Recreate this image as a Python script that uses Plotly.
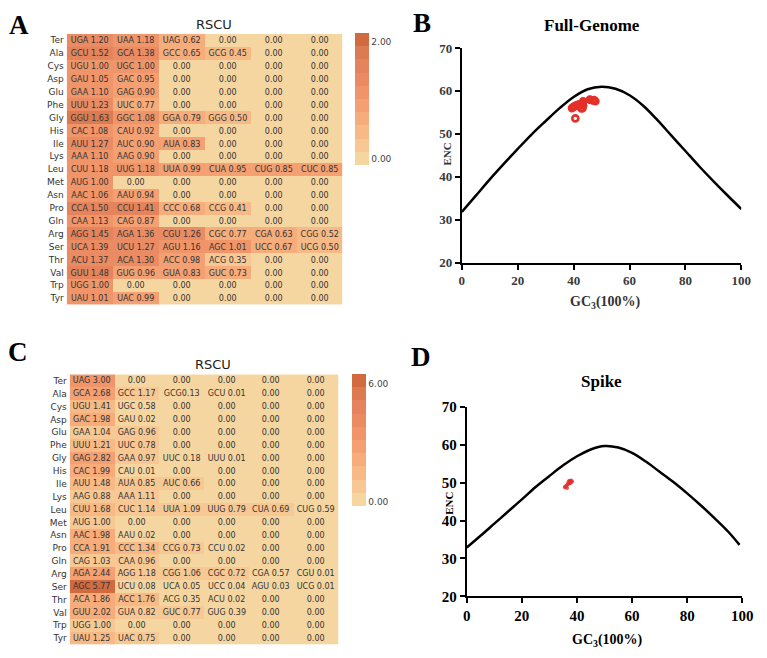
import plotly.graph_objects as go

W, H = 767, 658

amino = ["Ter", "Ala", "Cys", "Asp", "Glu", "Phe", "Gly", "His", "Ile", "Lys", "Leu",
         "Met", "Asn", "Pro", "Gln", "Arg", "Ser", "Thr", "Val", "Trp", "Tyr"]

# Panel A: full genome RSCU (codon, value) per amino acid, columns sorted as in figure
A_codons = [
    ["UGA", "UAA", "UAG"], ["GCU", "GCA", "GCC", "GCG"], ["UGU", "UGC"], ["GAU", "GAC"],
    ["GAA", "GAG"], ["UUU", "UUC"], ["GGU", "GGC", "GGA", "GGG"], ["CAC", "CAU"],
    ["AUU", "AUC", "AUA"], ["AAA", "AAG"], ["CUU", "UUG", "UUA", "CUA", "CUG", "CUC"],
    ["AUG"], ["AAC", "AAU"], ["CCA", "CCU", "CCC", "CCG"], ["CAA", "CAG"],
    ["AGG", "AGA", "CGU", "CGC", "CGA", "CGG"], ["UCA", "UCU", "AGU", "AGC", "UCC", "UCG"],
    ["ACU", "ACA", "ACC", "ACG"], ["GUU", "GUG", "GUA", "GUC"], ["UGG"], ["UAU", "UAC"]]
A_values = [
    [1.20, 1.18, 0.62], [1.52, 1.38, 0.65, 0.45], [1.00, 1.00], [1.05, 0.95],
    [1.10, 0.90], [1.23, 0.77], [1.63, 1.08, 0.79, 0.50], [1.08, 0.92],
    [1.27, 0.90, 0.83], [1.10, 0.90], [1.18, 1.18, 0.99, 0.95, 0.85, 0.85],
    [1.00], [1.06, 0.94], [1.50, 1.41, 0.68, 0.41], [1.13, 0.87],
    [1.45, 1.36, 1.26, 0.77, 0.63, 0.52], [1.39, 1.27, 1.16, 1.01, 0.67, 0.50],
    [1.37, 1.30, 0.98, 0.35], [1.48, 0.96, 0.83, 0.73], [1.00], [1.01, 0.99]]

# Panel C: spike RSCU
C_codons = [
    ["UAG"], ["GCA", "GCC", "GCG", "GCU"], ["UGU", "UGC"], ["GAC", "GAU"],
    ["GAA", "GAG"], ["UUU", "UUC"], ["GAG", "GAA", "UUC", "UUU"], ["CAC", "CAU"],
    ["AUU", "AUA", "AUC"], ["AAG", "AAA"], ["CUU", "CUC", "UUA", "UUG", "CUA", "CUG"],
    ["AUG"], ["AAC", "AAU"], ["CCA", "CCC", "CCG", "CCU"], ["CAG", "CAA"],
    ["AGA", "AGG", "CGG", "CGC", "CGA", "CGU"], ["AGC", "UCU", "UCA", "UCC", "AGU", "UCG"],
    ["ACA", "ACC", "ACG", "ACU"], ["GUU", "GUA", "GUC", "GUG"], ["UGG"], ["UAU", "UAC"]]
C_values = [
    [3.00], [2.68, 1.17, 0.13, 0.01], [1.41, 0.58], [1.98, 0.02],
    [1.04, 0.96], [1.21, 0.78], [2.82, 0.97, 0.18, 0.01], [1.99, 0.01],
    [1.48, 0.85, 0.66], [0.88, 1.11], [1.68, 1.14, 1.09, 0.79, 0.69, 0.59],
    [1.00], [1.98, 0.02], [1.91, 1.34, 0.73, 0.02], [1.03, 0.96],
    [2.44, 1.18, 1.06, 0.72, 0.57, 0.01], [5.77, 0.08, 0.05, 0.04, 0.03, 0.01],
    [1.86, 1.76, 0.35, 0.02], [2.02, 0.82, 0.77, 0.39], [1.00], [1.25, 0.75]]
C_nospace = {(1, 2)}  # "GCG0.13" printed without a space

# Panel B: ENC plot, full genome
B_curve_gc3 = [0, 5, 10, 15, 20, 25, 30, 35, 40, 45, 50, 55, 60, 65, 70, 75, 80, 85, 90, 95, 100]
B_curve_enc = [31.8, 35.6, 39.4, 43.0, 46.5, 49.9, 53.0, 56.0, 58.6, 60.4, 61.0, 60.5, 59.0,
               56.5, 53.2, 49.6, 46.0, 42.4, 39.0, 35.7, 32.5]
B_gc3 = [39.4, 40.0, 40.3, 41.1, 41.6, 42.0, 42.6, 43.2, 43.4, 43.2, 43.4, 42.8, 40.6,
         45.8, 46.1, 46.9, 47.8, 47.3]
B_enc = [56.0, 56.3, 56.4, 56.7, 56.5, 56.9, 56.8, 57.2, 57.6, 56.0, 56.6, 55.9, 53.6,
         58.0, 57.9, 57.8, 57.6, 57.9]

# Panel D: ENC plot, spike
D_curve_gc3 = [0, 5, 10, 15, 20, 25, 30, 35, 40, 45, 50, 55, 60, 65, 70, 75, 80, 85, 90, 95, 99]
D_curve_enc = [32.9, 36.0, 39.2, 42.4, 45.6, 48.9, 51.8, 54.6, 57.0, 58.8, 59.7, 59.3, 57.9,
               55.6, 52.9, 50.2, 47.2, 44.0, 40.6, 37.0, 33.6]
D_gc3 = [36.9, 37.2, 37.5, 37.8, 38.0, 37.4, 37.0, 36.6, 36.2, 35.8, 35.6, 37.6, 38.2, 36.4]
D_enc = [50.2, 50.5, 50.3, 50.6, 50.2, 49.9, 49.8, 49.6, 49.2, 49.0, 48.8, 50.0, 50.4, 48.6]

NCOL = 6


def build(codons, values, nospace=()):
    z, t = [], []
    for i, (cs, vs) in enumerate(zip(codons, values)):
        zr, tr = [], []
        for j in range(NCOL):
            if j < len(cs):
                sep = "" if (i, j) in nospace else " "
                zr.append(vs[j])
                tr.append(f"{cs[j]}{sep}{vs[j]:.2f}")
            else:
                zr.append(0.0)
                tr.append("0.00")
        z.append(zr)
        t.append(tr)
    return z, t


zA, tA = build(A_codons, A_values)
zC, tC = build(C_codons, C_values, C_nospace)

# stepped colour scale (10 bands), like the reference legend
band_colors = ["#F6D6A0", "#F7C893", "#F7BA86", "#F6AC7B", "#F4A072",
               "#F0956A", "#EA8B63", "#E4835C", "#DC7A51", "#D26A40"]
cscale = []
nb = len(band_colors)
for k, c in enumerate(band_colors):
    cscale.append([k / nb, c])
    cscale.append([(k + 1) / nb, c])


def px(x):
    return x / W


def py(y):
    return 1 - y / H


fig = go.Figure()
cols = list(range(NCOL))
sans = "DejaVu Sans"
serif = "Liberation Serif"

fig.add_trace(go.Heatmap(
    z=zA, x=cols, y=amino, text=tA, texttemplate="%{text}",
    textfont=dict(family=sans, size=8, color="#333"),
    colorscale=cscale, zmin=0, zmax=2, xaxis="x", yaxis="y",
    colorbar=dict(x=px(358), xanchor="left", y=py(26), yanchor="top", len=132, lenmode="pixels",
                  thickness=14, outlinewidth=0, xpad=0, ypad=0, ticks="",
                  tickvals=[0.1, 1.87], ticktext=["0.00", "2.00"],
                  tickfont=dict(family=sans, size=9, color="#444")),
    hoverinfo="skip"))

fig.add_trace(go.Heatmap(
    z=zC, x=cols, y=amino, text=tC, texttemplate="%{text}",
    textfont=dict(family=sans, size=8, color="#333"),
    colorscale=cscale, zmin=0, zmax=6, xaxis="x2", yaxis="y2",
    colorbar=dict(x=px(355), xanchor="left", y=py(375), yanchor="top", len=132, lenmode="pixels",
                  thickness=14, outlinewidth=0, xpad=0, ypad=0, ticks="",
                  tickvals=[0.2, 5.55], ticktext=["0.00", "6.00"],
                  tickfont=dict(family=sans, size=9, color="#444")),
    hoverinfo="skip"))

red = "#E5302A"
fig.add_trace(go.Scatter(x=B_curve_gc3, y=B_curve_enc, mode="lines", line=dict(color="black", width=2.5, shape="spline"),
                         xaxis="x3", yaxis="y3", showlegend=False, hoverinfo="skip"))
fig.add_trace(go.Scatter(x=B_gc3, y=B_enc, mode="markers",
                         marker=dict(symbol="circle-open", size=6, color=red, line=dict(width=2.6, color=red)),
                         xaxis="x3", yaxis="y3", showlegend=False))
fig.add_trace(go.Scatter(x=D_curve_gc3, y=D_curve_enc, mode="lines", line=dict(color="black", width=2.5, shape="spline"),
                         xaxis="x4", yaxis="y4", showlegend=False, hoverinfo="skip"))
fig.add_trace(go.Scatter(x=D_gc3, y=D_enc, mode="markers",
                         marker=dict(symbol="circle", size=4, color=red, opacity=0.8),
                         xaxis="x4", yaxis="y4", showlegend=False))

hm_x = dict(range=[-0.5, 5.5], showticklabels=False, showgrid=False, zeroline=False, showline=False, ticks="")
hm_y = dict(autorange="reversed", showgrid=False, zeroline=False, showline=False, ticks="",
            tickfont=dict(family=sans, size=9, color="#333"), ticklabelstandoff=2)


def sc_axes(color, size):
    common = dict(showgrid=False, zeroline=False, showline=True, linecolor="black", linewidth=2,
                  ticks="outside", ticklen=5, tickwidth=2, tickcolor="black",
                  tickfont=dict(family=serif, size=size, color=color, weight="bold"))
    return common


fig.update_layout(
    width=W, height=H, margin=dict(l=0, r=0, t=0, b=0),
    paper_bgcolor="white", plot_bgcolor="white", showlegend=False,
    xaxis=dict(domain=[px(64), px(345)], anchor="y", **hm_x),
    yaxis=dict(domain=[py(304), py(26.5)], anchor="x", **hm_y),
    xaxis2=dict(domain=[px(67), px(341)], anchor="y2", **hm_x),
    yaxis2=dict(domain=[py(652.5), py(375.5)], anchor="x2", **hm_y),
    xaxis3=dict(domain=[px(467), px(752)], anchor="y3", range=[0, 100], tickvals=[0, 20, 40, 60, 80, 100],
                **sc_axes("#3a3a3a", 13)),
    yaxis3=dict(domain=[py(261), py(41)], anchor="x3", range=[20, 70], tickvals=[20, 30, 40, 50, 60, 70],
                **sc_axes("#3a3a3a", 13)),
    xaxis4=dict(domain=[px(472), px(753)], anchor="y4", range=[0, 100], tickvals=[0, 20, 40, 60, 80, 100],
                **sc_axes("black", 15)),
    yaxis4=dict(domain=[py(603), py(409)], anchor="x4", range=[20, 70], tickvals=[20, 30, 40, 50, 60, 70],
                **sc_axes("black", 15)),
)


def ann(text, x, y, size, family, color="black", bold=False, angle=0):
    fig.add_annotation(text=f"<b>{text}</b>" if bold else text, x=px(x), y=py(y), xref="paper", yref="paper",
                       xanchor="center", yanchor="middle", showarrow=False, textangle=angle,
                       font=dict(family=family, size=size, color=color))


ann("A", 15, 17, 27, serif, bold=True)
ann("B", 426, 15, 27, serif, bold=True)
ann("C", 14, 353, 27, serif, bold=True)
ann("D", 425, 358, 27, serif, bold=True)
ann("RSCU", 214, 17, 13, sans, color="#222")
ann("RSCU", 213, 365, 13, sans, color="#222")
ann("Full-Genome", 600, 18, 17, serif, bold=True)
ann("Spike", 609, 383, 17, serif, bold=True)
ann("GC<sub>3</sub>(100%)", 613, 302, 14, serif, color="#333", bold=True)
ann("GC<sub>3</sub>(100%)", 616, 648, 14, serif, bold=True)
ann("ENC", 452, 150, 11, serif, color="#333", bold=True, angle=-90)
ann("ENC", 454, 508, 11, serif, bold=True, angle=-90)

fig.write_html("out.html")
